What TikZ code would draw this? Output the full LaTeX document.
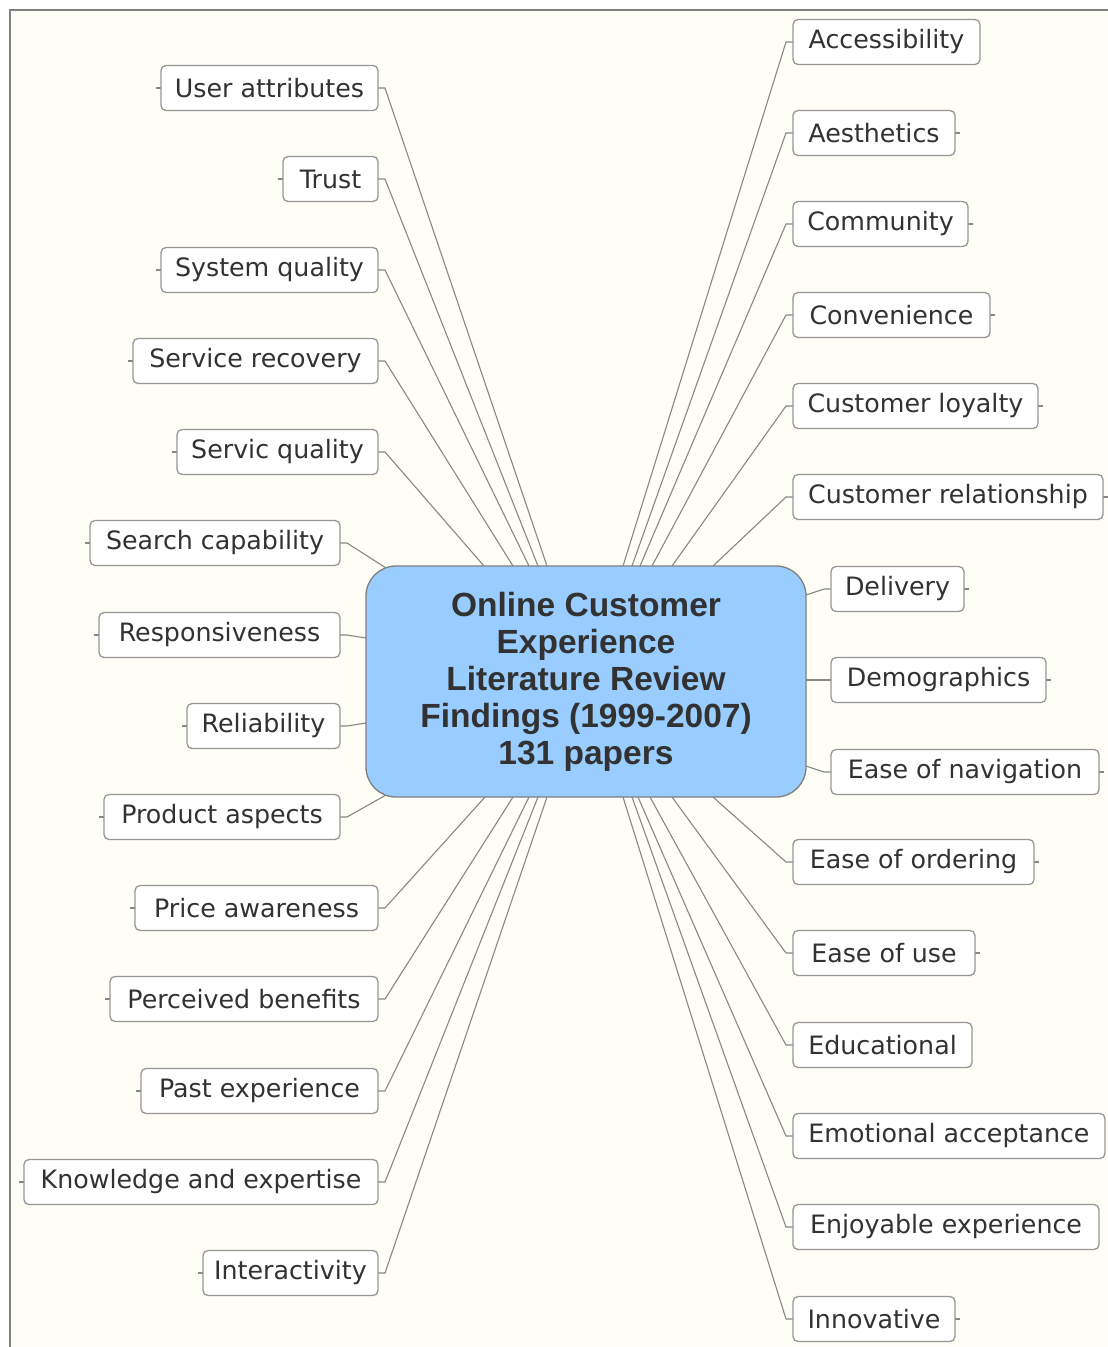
\documentclass[tikz,border=0pt]{standalone}
\usepackage{fontspec}
\newfontfamily\leaffont{DejaVu Sans}
\newfontfamily\hubfont{Liberation Sans}
\usetikzlibrary{calc}
\definecolor{cream}{RGB}{254,254,246}
\definecolor{linegray}{RGB}{135,135,135}
\definecolor{boxgray}{RGB}{150,150,150}
\definecolor{framegray}{RGB}{128,128,128}
\definecolor{hubblue}{RGB}{153,204,255}
\definecolor{txt}{RGB}{50,50,50}
\pgfdeclarelayer{back}
\pgfdeclarelayer{links}
\pgfsetlayers{back,links,main}
\tikzset{
  leaf/.style={draw=boxgray, fill=white, rounded corners=5pt, line width=1.3pt,
    minimum height=45pt, inner sep=0pt, outer sep=0pt, text=txt,
    font=\leaffont\fontsize{25.3pt}{30pt}\selectfont},
  hub/.style={draw=framegray, fill=hubblue, rounded corners=30pt, line width=1.3pt,
    minimum width=440pt, minimum height=231pt, inner sep=0pt, outer sep=0pt,
    text=txt, align=center, font=\hubfont\bfseries\fontsize{33.5pt}{37pt}\selectfont},
  conn/.style={draw=linegray, line width=1.1pt},
  tick/.style={draw=linegray, line width=1.1pt}
}
\newcommand{\lf}[5]{\node[leaf, minimum width={#3-#2}] (#1) at ({(#2+#3)/2},#4) {#5};}
\begin{document}
\begin{tikzpicture}[x=1pt,y=-1pt]
\useasboundingbox (0,0) rectangle (1108,1347);
\begin{pgfonlayer}{back}
\fill[white] (0,0) rectangle (1108,1347);
\fill[cream] (10,10) rectangle (1108,1347);
\draw[framegray, line width=2pt] (10,1347) -- (10,10) -- (1108,10);
\end{pgfonlayer}

\node[hub] (c) at (586,681.5) {Online Customer\\Experience\\Literature Review\\Findings (1999-2007)\\131 papers};

% left nodes
\lf{ua}{161}{378}{88}{User attributes}
\lf{tr}{283}{378}{179}{Trust}
\lf{sq}{161}{378}{270}{System quality}
\lf{sr}{133}{378}{361}{Service recovery}
\lf{svq}{177}{378}{452}{Servic quality}
\lf{sc}{90}{340}{543}{Search capability}
\lf{rs}{99}{340}{635}{Responsiveness}
\lf{rl}{187}{340}{726}{Reliability}
\lf{pa}{104}{340}{817}{Product aspects}
\lf{pw}{135}{378}{908}{Price awareness}
\lf{pb}{110}{378}{999}{Perceived benefits}
\lf{pe}{141}{378}{1091}{Past experience}
\lf{ke}{24}{378}{1182}{Knowledge and expertise}
\lf{ia}{203}{378}{1273}{Interactivity}

% right nodes
\lf{ac}{793}{980}{42}{Accessibility}
\lf{ae}{793}{955}{133}{Aesthetics}
\lf{cm}{793}{968}{224}{Community}
\lf{cv}{793}{990}{315}{Convenience}
\lf{cl}{793}{1038}{406}{Customer loyalty}
\lf{cr}{793}{1103}{497}{Customer relationship}
\lf{dl}{831}{964}{589}{Delivery}
\lf{dm}{831}{1046}{680}{Demographics}
\lf{en}{831}{1099}{772}{Ease of navigation}
\lf{eo}{793}{1034}{862}{Ease of ordering}
\lf{eu}{793}{975}{953}{Ease of use}
\lf{ed}{793}{972}{1045}{Educational}
\lf{ea}{793}{1105}{1136}{Emotional acceptance}
\lf{ee}{793}{1099}{1227}{Enjoyable experience}
\lf{in}{793}{955}{1319}{Innovative}

\begin{pgfonlayer}{links}
% left connectors, top edge
\draw[conn] (ua.east) -- ++(7,0) -- ([xshift=181pt]c.north west);
\draw[conn] (tr.east) -- ++(7,0) -- ([xshift=172pt]c.north west);
\draw[conn] (sq.east) -- ++(7,0) -- ([xshift=163pt]c.north west);
\draw[conn] (sr.east) -- ++(7,0) -- ([xshift=147pt]c.north west);
\draw[conn] (svq.east) -- ++(7,0) -- ([xshift=118pt]c.north west);
\draw[conn] (sc.east) -- ++(7,0) -- ([xshift=20pt,yshift=-2pt]c.north west);
% left side
\draw[conn] (rs.east) -- ++(7,0) -- ([yshift=43.5pt]c.west);
\draw[conn] (rl.east) -- ++(7,0) -- ([yshift=-41.5pt]c.west);
% bottom edge
\draw[conn] (pa.east) -- ++(7,0) -- ([xshift=20pt,yshift=2pt]c.south west);
\draw[conn] (pw.east) -- ++(7,0) -- ([xshift=119pt]c.south west);
\draw[conn] (pb.east) -- ++(7,0) -- ([xshift=147pt]c.south west);
\draw[conn] (pe.east) -- ++(7,0) -- ([xshift=163pt]c.south west);
\draw[conn] (ke.east) -- ++(7,0) -- ([xshift=172pt]c.south west);
\draw[conn] (ia.east) -- ++(7,0) -- ([xshift=181pt]c.south west);
% right connectors, top edge
\draw[conn] (ac.west) -- ++(-7,0) -- ([xshift=257pt]c.north west);
\draw[conn] (ae.west) -- ++(-7,0) -- ([xshift=266pt]c.north west);
\draw[conn] (cm.west) -- ++(-7,0) -- ([xshift=274pt]c.north west);
\draw[conn] (cv.west) -- ++(-7,0) -- ([xshift=286pt]c.north west);
\draw[conn] (cl.west) -- ++(-7,0) -- ([xshift=306pt]c.north west);
\draw[conn] (cr.west) -- ++(-7,0) -- ([xshift=347pt]c.north west);
% right side
\draw[conn] (dl.west) -- ++(-7,0) -- ([yshift=86.5pt]c.east);
\draw[conn] (dm.west) -- ++(-7,0) -- ([yshift=1.5pt]c.east);
\draw[conn] (en.west) -- ++(-7,0) -- ([yshift=-84.5pt]c.east);
% bottom edge
\draw[conn] (eo.west) -- ++(-7,0) -- ([xshift=347pt]c.south west);
\draw[conn] (eu.west) -- ++(-7,0) -- ([xshift=306pt]c.south west);
\draw[conn] (ed.west) -- ++(-7,0) -- ([xshift=284pt]c.south west);
\draw[conn] (ea.west) -- ++(-7,0) -- ([xshift=272pt]c.south west);
\draw[conn] (ee.west) -- ++(-7,0) -- ([xshift=266pt]c.south west);
\draw[conn] (in.west) -- ++(-7,0) -- ([xshift=257pt]c.south west);

% outer ticks
\foreach \n in {ua,tr,sq,sr,svq,sc,rs,rl,pa,pw,pb,pe,ke,ia}
  \draw[tick] (\n.west) -- ++(-5,0);
\foreach \n in {ae,cm,cv,cl,cr,dl,dm,en,eo,eu,in}
  \draw[tick] (\n.east) -- ++(5,0);
\end{pgfonlayer}
\end{tikzpicture}
\end{document}
